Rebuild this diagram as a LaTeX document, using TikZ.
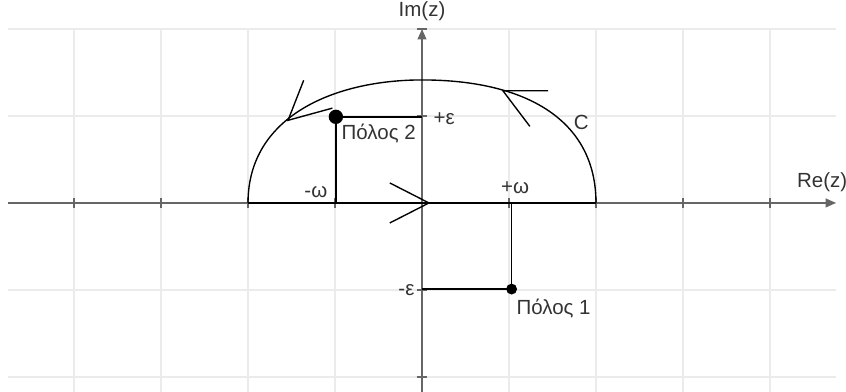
\documentclass[tikz,border=0pt]{standalone}
\usepackage{fontspec}
\setmainfont{Liberation Sans}
\usepackage{xcolor}
\definecolor{gridGray}{HTML}{EBEBEB}
\definecolor{axisGray}{HTML}{666666}
\definecolor{labelGray}{HTML}{333333}
\usepackage{tikz}
\usetikzlibrary{arrows.meta, positioning}

\begin{document}
\begin{tikzpicture}[
    gridline/.style={draw=gridGray, line width=0.5pt},
    axis/.style    ={draw=axisGray, line width=0.65pt},
    axarrow/.style ={-{Triangle[length=1.2mm,width=1mm]}},
    contour/.style ={draw=black, line width=0.45pt},
    pole/.style    ={circle, fill=black, inner sep=0pt},
    lbl/.style     ={font=\fontsize{6.7pt}{8pt}\selectfont, text=labelGray, inner sep=0pt}
]
\useasboundingbox (-4.851,-2.172) rectangle (4.874,2.333);

% grid
\foreach \x in {-4,...,4} \draw[gridline] (\x,2) -- (\x,-2.172);
\foreach \y in {-2,...,2} \draw[gridline] (-4.76,\y) -- (4.76,\y);

% axes
\coordinate (O) at (0,0);
\draw[axis, axarrow] (-4.76,0) -- (4.76,0);
\draw[axis, axarrow] (0,-2.172) -- (0,2);
\foreach \x in {-4,-3,-2,-1,1,2,3,4} \draw[axis] (\x,-0.06) -- (\x,0.06);
\foreach \y in {-2,-1,1,2} \draw[axis] (-0.06,\y) -- (0.06,\y);

% contour C
\coordinate (cL) at (-2,0);
\coordinate (cR) at (2,0);
\draw[contour, line width=0.6pt] (cL) -- (cR);
\draw[contour] (cR) .. controls (2,0.95) and (1.2,1.414) .. (0,1.414)
               .. controls (-1.0,1.414) and (-2,1.0) .. (cL);
\draw[contour] (-0.37,0.23) -- (0.08,0) -- (-0.37,-0.23);
\draw[contour] (1.45,1.29) -- (0.93,1.29) -- (1.24,0.88);
\draw[contour] (-1.36,1.41) -- (-1.54,0.95) -- (-1.03,1.09);

% poles
\node[pole, minimum size=1.65mm] (pole2) at (-0.99,0.99) {};
\node[pole, minimum size=1.25mm] (pole1) at (1.03,-0.99) {};
\draw[contour] (pole2.center) -- (pole2 |- O);
\draw[contour] (pole2.center) -- (pole2 -| O);
\draw[contour] (pole1.center) -- (pole1 |- O);
\draw[contour] (pole1.center) -- (pole1 -| O);

% labels
\node[lbl, anchor=west] (epsP) at (0.126,0.97) {+ε};
\node[lbl] (omM) at (-1.22,0.13) {-ω};
\node[lbl] (omP) at (1.07,0.17) {+ω};
\node[lbl, anchor=east] (epsM) at (-0.08,-1.0) {-ε};
\node[lbl, anchor=west] (name1) at (1.08,-1.21) {Πόλος 1};
\node[lbl, anchor=west] (name2) at (-0.93,0.80) {Πόλος 2};
\node[lbl] (cLabel) at (1.83,0.93) {C};
\node[lbl] (imLabel) at (0,2.20) {Im(z)};
\node[lbl] (reLabel) at (4.60,0.24) {Re(z)};
\end{tikzpicture}
\end{document}
